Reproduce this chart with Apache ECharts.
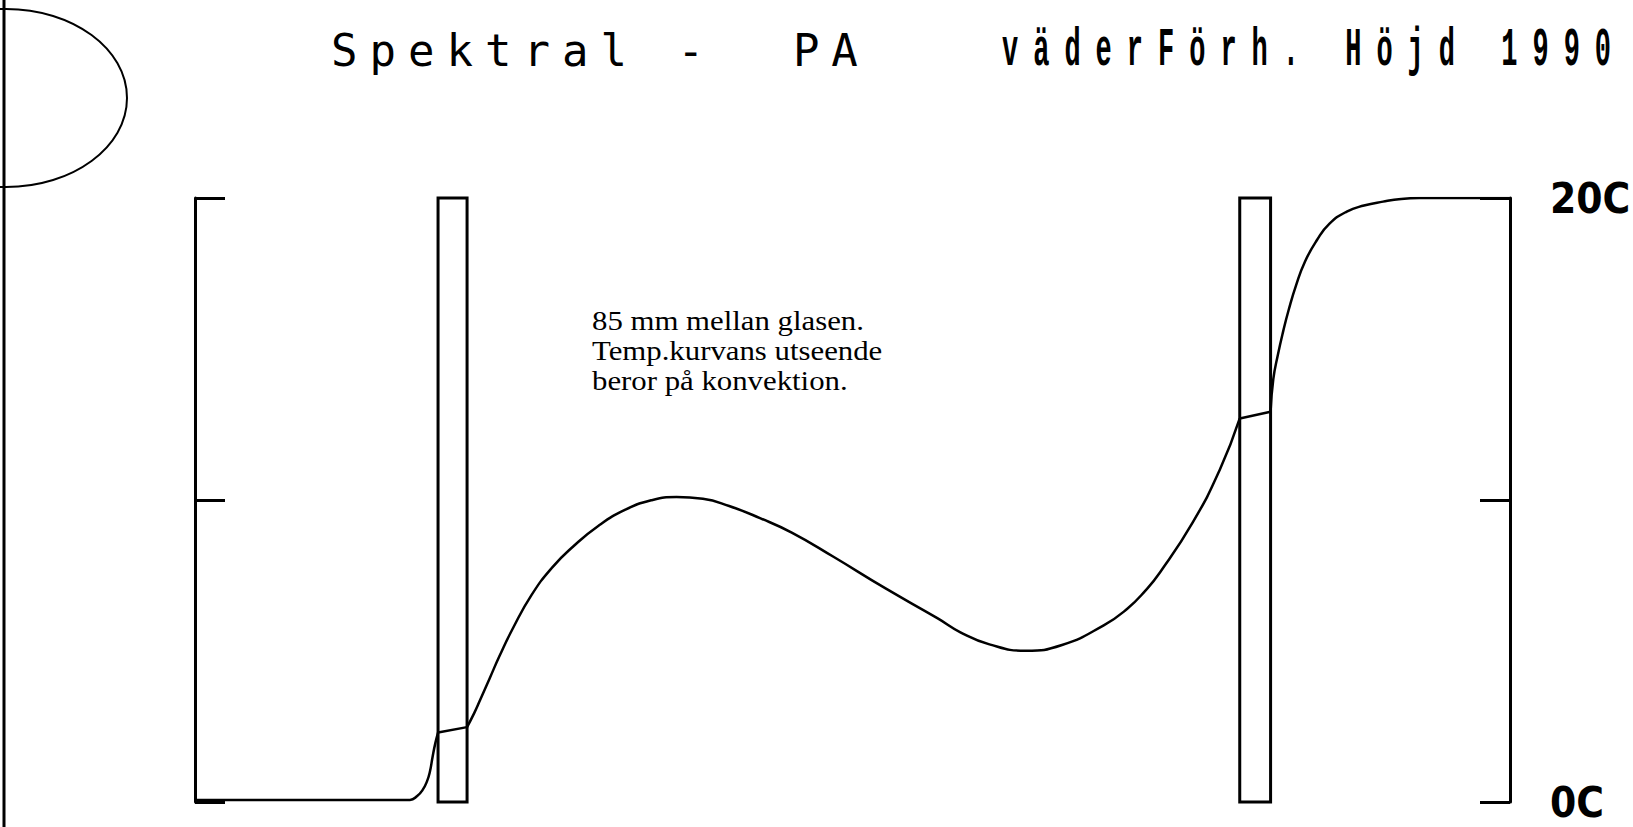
<!DOCTYPE html>
<html>
<head>
    <meta charset="utf-8">
    <title>Spektral - PA</title>
    <script src="https://cdn.jsdelivr.net/npm/echarts@6/dist/echarts.min.js"></script>
    <style>
        html, body { margin: 0; padding: 0; background: #fff; }
        /* plotter-style spaced lettering (svg renderer) */
        #main text[style*="DejaVu Sans Mono"] { letter-spacing: 12px; }
        #main text[style*="Liberation Mono"] { letter-spacing: 30px; }
    </style>
</head>
<body>
<div id="main" style="width:1633px;height:827px;"></div>
<script type="text/javascript">
    // position (mm from left scale) and temperature (C)
    var curveX = [0, 23.7, 24.5, 25.1, 25.6, 25.9, 26.2, 26.5, 26.8,
        30.0, 30.8, 31.4, 32.5, 33.6, 35.0, 37.1, 39.4, 41.7, 44.5, 47.4, 50.3, 53.1, 56.0,
        58.9, 62.3, 65.8, 70.4, 76.1, 81.9, 84.4, 87.6, 91.6, 95.6, 100.2, 102.8, 104.8,
        106.4, 110.0, 113.0, 115.2,
        118.6, 118.9, 119.4, 120.0, 120.6, 121.4, 122.4, 123.7, 125.1, 127.0, 128.9,
        131.0, 133.0, 135.0, 145.0];
    var curveT = [0.07, 0.07, 0.2, 0.4, 0.7, 1.0, 1.5, 1.95, 2.3,
        2.48, 2.95, 3.35, 4.1, 4.85, 5.72, 6.85, 7.77, 8.46, 9.15, 9.67, 9.99, 10.1, 10.04,
        9.8, 9.4, 8.92, 8.12, 7.08, 6.08, 5.62, 5.22, 5.01, 5.2, 5.85, 6.4, 7.0,
        7.6, 9.25, 11.0, 12.7,
        12.92, 14.0, 14.8, 15.6, 16.3, 17.1, 17.9, 18.6, 19.15, 19.55, 19.75,
        19.88, 19.97, 20.0, 20.0];

    // glasrutor (mm)
    var glass1 = [26.8, 30.0];
    var glass2 = [115.2, 118.6];

    var yTicks = [0, 10, 20];
    var yTickLabels = ['0C', '', '20C'];

    var titleLeft = 'Spektral -\u00a0 PA';
    var titleRight = 'väderFörh. Höjd 1990';
    var noteLines = ['85 mm mellan glasen.', 'Temp.kurvans utseende', 'beror på konvektion.'];

    var chartDom = document.getElementById('main');
    var myChart = echarts.init(chartDom, null, {renderer: 'svg'});

    var lineData = curveX.map(function (x, i) {
        return [x, curveT[i]];
    });

    // luft / glas / luft / glas / luft - each piece smoothed on its own
    var bounds = [0, glass1[0], glass1[1], glass2[0], glass2[1], 145];
    var series = [];
    for (var s = 0; s < bounds.length - 1; s++) {
        var a = bounds[s], b = bounds[s + 1];
        series.push({
            type: 'line',
            data: lineData.filter(function (p) { return p[0] >= a && p[0] <= b; }),
            symbol: 'none',
            smooth: 0.5,
            lineStyle: {color: '#000', width: 2.5}
        });
    }
    series[0].markArea = {
        silent: true,
        itemStyle: {color: 'rgba(0,0,0,0)', borderColor: '#000', borderWidth: 3},
        data: [
            [{xAxis: glass1[0], yAxis: 0}, {xAxis: glass1[1], yAxis: 20}],
            [{xAxis: glass2[0], yAxis: 0}, {xAxis: glass2[1], yAxis: 20}]
        ]
    };

    function tickLabel(v) {
        var i = yTicks.indexOf(v);
        return i < 0 ? '' : yTickLabels[i];
    }

    var axisCommon = {
        type: 'value',
        min: 0,
        max: 20,
        interval: 10,
        splitLine: {show: false},
        axisLine: {show: true, lineStyle: {color: '#000', width: 3}},
        axisTick: {show: true, inside: true, length: 30, lineStyle: {color: '#000', width: 3}}
    };

    var option = {
        backgroundColor: '#fff',
        animation: false,
        grid: {left: 195, right: 123, top: 198, bottom: 25, outerBoundsMode: 'none'},
        xAxis: {
            type: 'value',
            min: 0,
            max: 145,
            show: false
        },
        yAxis: [
            Object.assign({}, axisCommon, {
                position: 'left',
                axisLabel: {show: false}
            }),
            Object.assign({}, axisCommon, {
                position: 'right',
                axisLabel: {
                    show: true,
                    margin: 40,
                    color: '#000',
                    fontSize: 42,
                    fontWeight: 'bold',
                    fontFamily: "'DejaVu Sans Condensed', 'DejaVu Sans'",
                    formatter: tickLabel
                }
            })
        ],
        series: series,
        graphic: [
            {
                type: 'line', silent: true,
                shape: {x1: 4, y1: 0, x2: 4, y2: 827},
                style: {stroke: '#000', lineWidth: 3}
            },
            {
                type: 'ellipse', silent: true,
                shape: {cx: 6, cy: 98, rx: 121, ry: 89},
                style: {fill: 'none', stroke: '#000', lineWidth: 2}
            },
            {
                type: 'text', silent: true, x: 331, y: 50,
                style: {
                    text: titleLeft, fill: '#000',
                    fontFamily: 'DejaVu Sans Mono', fontSize: 44,
                    textAlign: 'left', align: 'left',
                    textVerticalAlign: 'middle', verticalAlign: 'middle'
                }
            },
            {
                type: 'text', silent: true, x: 1002, y: 50, scaleX: 0.5,
                style: {
                    text: titleRight, fill: '#000',
                    fontFamily: 'Liberation Mono', fontWeight: 'bold', fontSize: 54,
                    textAlign: 'left', align: 'left',
                    textVerticalAlign: 'middle', verticalAlign: 'middle'
                }
            },
            {
                type: 'text', silent: true, x: 592, y: 305, scaleX: 1.1,
                style: {
                    text: noteLines.join('\n'), fill: '#000',
                    fontFamily: 'Liberation Serif', fontSize: 28, lineHeight: 30,
                    textAlign: 'left', align: 'left',
                    textVerticalAlign: 'top', verticalAlign: 'top'
                }
            }
        ]
    };

    myChart.setOption(option);
</script>
</body>
</html>
